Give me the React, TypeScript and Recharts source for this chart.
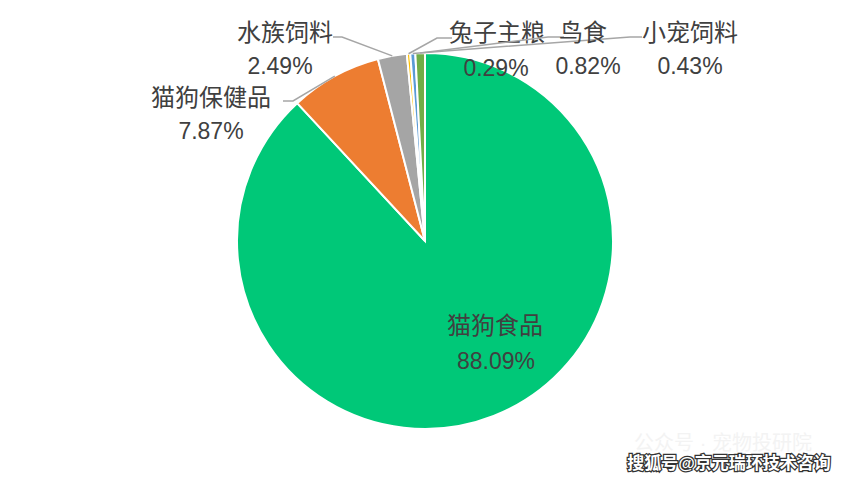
import React from "react";
import { PieChart, Pie, Cell } from "recharts";

const categories = ["猫狗食品", "猫狗保健品", "水族饲料", "兔子主粮", "小宠饲料", "鸟食"];
const shares = [88.09, 7.87, 2.49, 0.29, 0.43, 0.82];
const colors = ["#00C878", "#ED7D31", "#A5A5A5", "#FFC000", "#5B9BD5", "#70AD47"];

const data = categories.map((name, i) => ({ name, value: shares[i] }));

// label placement: name text center, percent text center, elbow + end of leader line
const labelLayout: Record<string, { nx: number; ny: number; px: number; py: number; line?: number[][] }> = {
  猫狗食品: { nx: 495, ny: 325, px: 496, py: 361 },
  猫狗保健品: { nx: 211, ny: 97, px: 211, py: 131, line: [[293, 101], [283, 101]] },
  水族饲料: { nx: 285, ny: 32, px: 280, py: 66, line: [[342, 37], [333, 37]] },
  兔子主粮: { nx: 497, ny: 32, px: 496, py: 68, line: [[437, 38], [452, 38]] },
  鸟食: { nx: 583, ny: 32, px: 588, py: 66, line: [[548, 37], [564, 37]] },
  小宠饲料: { nx: 690, ny: 32, px: 690, py: 66, line: [[630, 37], [642, 37]] },
};

const RAD = Math.PI / 180;
const font = "'Liberation Sans', 'Noto Sans CJK SC', sans-serif";

const renderLabel = (props: any) => {
  const { cx, cy, midAngle, outerRadius, name, value } = props;
  const l = labelLayout[name];
  if (!l) return null;
  const sx = cx + outerRadius * Math.cos(-midAngle * RAD);
  const sy = cy + outerRadius * Math.sin(-midAngle * RAD);
  const pts = l.line ? [[sx, sy], ...l.line] : null;
  return (
    <g>
      {pts && (
        <polyline
          points={pts.map((p) => p.join(",")).join(" ")}
          fill="none"
          stroke="#A6A6A6"
          strokeWidth={1.5}
        />
      )}
      <text x={l.nx} y={l.ny} textAnchor="middle" dominantBaseline="central" fill="#404040" fontSize={24} fontFamily={font}>
        {name}
      </text>
      <text x={l.px} y={l.py} textAnchor="middle" dominantBaseline="central" fill="#404040" fontSize={23} fontFamily={font}>
        {value.toFixed(2)}%
      </text>
    </g>
  );
};

export default function App() {
  return (
    <div style={{ position: "absolute", left: 0, top: 0, width: 852, height: 482, background: "#fff" }}>
      <PieChart width={852} height={482} margin={{ top: 0, right: 0, bottom: 0, left: 0 }}>
        <text x={723} y={443} textAnchor="middle" dominantBaseline="central" fill="#F3F3F3" fontSize={20} fontFamily={font}>
          公众号 · 宠物投研院
        </text>
        <Pie
          data={data}
          dataKey="value"
          nameKey="name"
          cx={425}
          cy={241}
          outerRadius={188}
          startAngle={90}
          endAngle={-270}
          stroke="#fff"
          strokeWidth={2}
          label={renderLabel}
          labelLine={false}
          isAnimationActive={false}
        >
          {data.map((d, i) => (
            <Cell key={d.name} fill={colors[i]} />
          ))}
        </Pie>
        <text
          x={729}
          y={463}
          textAnchor="middle"
          dominantBaseline="central"
          fill="#fff"
          stroke="#333"
          strokeWidth={2.5}
          paintOrder="stroke"
          fontSize={17}
          fontWeight="bold"
          fontFamily={font}
        >
          搜狐号@京元瑞环技术咨询
        </text>
      </PieChart>
    </div>
  );
}
